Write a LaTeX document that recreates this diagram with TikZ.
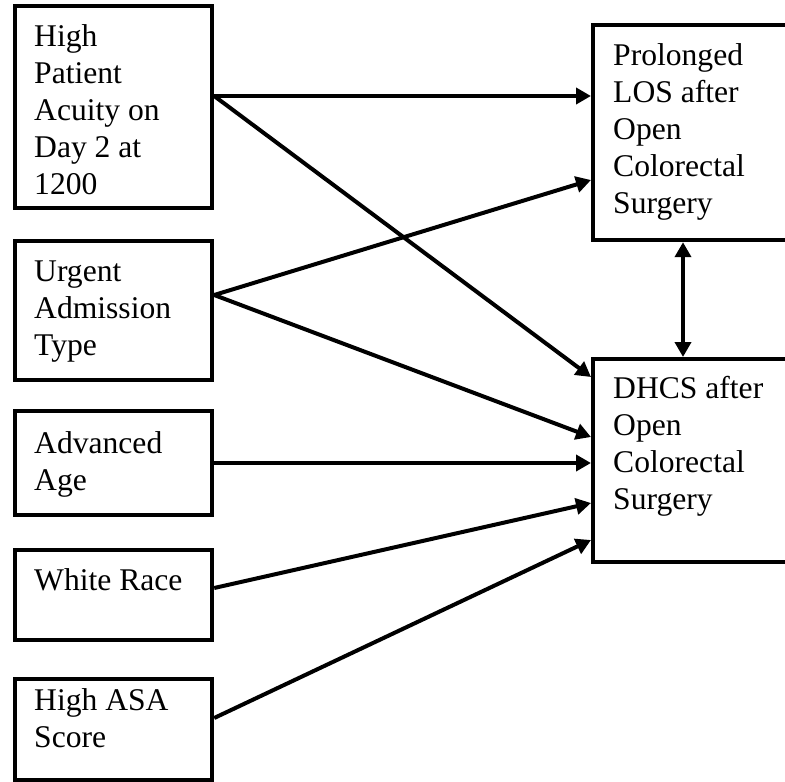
\documentclass[tikz,border=0pt]{standalone}
\usepackage{fontspec}
\setmainfont{Liberation Serif}
\usetikzlibrary{arrows.meta,calc}
\begin{document}
\begin{tikzpicture}[x=1pt,y=-1pt,
  box/.style={draw, line width=4.2pt, anchor=north west, inner sep=0pt},
  boxtext/.style={anchor=north west, inner sep=0pt, align=left,
    font=\fontsize{31.6}{37}\selectfont},
  link/.style={line width=4pt, -{Triangle[length=15pt,width=16pt]}},
  bilink/.style={line width=4pt, {Triangle[length=15pt,width=16pt]}-{Triangle[length=15pt,width=16pt]}}]
\useasboundingbox (0,0) rectangle (785,782);

% predictor boxes (left column)
\node[box, minimum width=197.5pt, minimum height=202pt] (acuity) at (12.5,4) {};
\node[box, minimum width=197.5pt, minimum height=139pt] (urgent) at (12.5,239) {};
\node[box, minimum width=197.5pt, minimum height=104pt] (age) at (12.5,409) {};
\node[box, minimum width=197.5pt, minimum height=90pt] (race) at (12.5,548) {};
\node[box, minimum width=197.5pt, minimum height=101pt] (asa) at (12.5,677) {};

% outcome boxes (right column)
\node[box, minimum width=200pt, minimum height=215pt] (los) at (591,23) {};
\node[box, minimum width=200pt, minimum height=203pt] (dhcs) at (591,357) {};

% box texts
\node[boxtext] (acuity-t) at (34,24) {High\\Patient\\Acuity on\\Day 2 at\\1200};
\node[boxtext] (urgent-t) at (34,260.5) {Urgent\\Admission\\Type};
\node[boxtext] (age-t) at (34,431.5) {Advanced\\Age};
\node[boxtext] (race-t) at (34,568.5) {White Race};
\node[boxtext] (asa-t) at (34,688.5) {High ASA\\Score};
\node[boxtext] (los-t) at (613,43.5) {Prolonged\\LOS after\\Open\\Colorectal\\Surgery};
\node[boxtext] (dhcs-t) at (613,376.5) {DHCS after\\Open\\Colorectal\\Surgery};

% paths
\draw[link] ($(acuity.north east)+(0,92)$) -- ($(los.north west)+(0,73)$);
\draw[link] ($(acuity.north east)+(0,92)$) -- ($(dhcs.north west)+(0,20)$);
\draw[link] ($(urgent.north east)+(0,56)$) -- ($(los.north west)+(0,157)$);
\draw[link] ($(urgent.north east)+(0,56)$) -- ($(dhcs.north west)+(0,80)$);
\draw[link] ($(age.north east)+(0,54)$) -- ($(dhcs.north west)+(0,106)$);
\draw[link] ($(race.north east)+(0,40)$) -- ($(dhcs.north west)+(0,146)$);
\draw[link] ($(asa.north east)+(0,41)$) -- ($(dhcs.north west)+(0,183)$);

% correlation between the two outcomes
\draw[bilink] ($(los.south west)+(92,0)$) -- ($(dhcs.north west)+(92,0)$);
\end{tikzpicture}
\end{document}
